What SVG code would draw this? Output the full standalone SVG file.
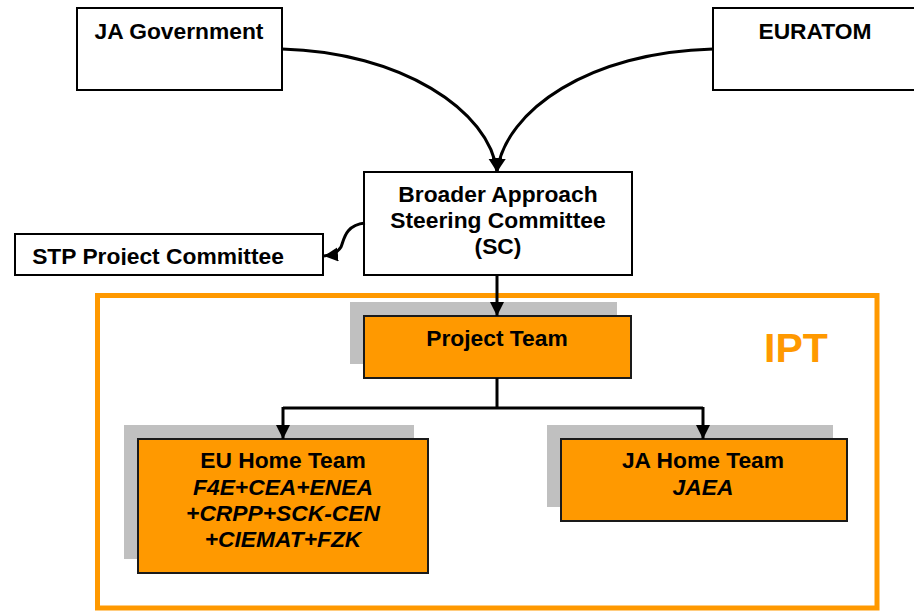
<svg xmlns="http://www.w3.org/2000/svg" width="914" height="612" viewBox="0 0 914 612">
  <defs>
    <style>
      .box { fill: #ffffff; stroke: #000000; stroke-width: 2; }
      .obox { fill: #FF9900; stroke: #1a1a1a; stroke-width: 2; }
      .shadow { fill: #C0C0C0; stroke: none; }
      .t { font-family: "Liberation Sans", Arial, sans-serif; font-weight: bold; font-size: 22.8px; fill: #000000; text-anchor: middle; }
      .it { font-style: italic; }
      .conn { fill: none; stroke: #000000; stroke-width: 3; }
    </style>
    <marker id="arr" markerWidth="16" markerHeight="16" refX="14" refY="7" orient="auto" markerUnits="userSpaceOnUse">
      <path d="M0,0 L14,7 L0,14 Z" fill="#000000"/>
    </marker>
    <clipPath id="stpclip">
      <rect x="15" y="234" width="308" height="31"/>
    </clipPath>
  </defs>

  <rect width="914" height="612" fill="#ffffff"/>

  <g id="ipt-frame">
    <rect x="97.5" y="295.5" width="779.5" height="312.5" fill="none" stroke="#FF9900" stroke-width="5"/>
    <text x="796" y="362" font-family="Liberation Sans, Arial, sans-serif" font-weight="bold" font-size="41" fill="#FF9900" text-anchor="middle">IPT</text>
  </g>

  <g id="ja-government">
    <rect class="box" x="77" y="8" width="205" height="82"/>
    <text class="t" x="179" y="39">JA Government</text>
  </g>

  <g id="euratom">
    <rect class="box" x="713" y="8" width="210" height="82"/>
    <text class="t" x="815" y="39">EURATOM</text>
  </g>

  <g id="steering-committee">
    <rect class="box" x="364" y="172" width="268" height="103"/>
    <text class="t" x="498" y="202">Broader Approach</text>
    <text class="t" x="498" y="228">Steering Committee</text>
    <text class="t" x="498" y="254">(SC)</text>
  </g>

  <g id="stp-project-committee">
    <rect class="box" x="15" y="234" width="308" height="41"/>
    <text class="t" x="158" y="264" clip-path="url(#stpclip)">STP Project Committee</text>
  </g>

  <g id="project-team">
    <rect class="shadow" x="350" y="302" width="267" height="62"/>
    <rect class="obox" x="364" y="316" width="267" height="62"/>
    <text class="t" x="497" y="346">Project Team</text>
  </g>

  <g id="eu-home-team">
    <rect class="shadow" x="124" y="425" width="290" height="134"/>
    <rect class="obox" x="138" y="439" width="290" height="134"/>
    <text class="t" x="283" y="468">EU Home Team</text>
    <text class="t it" x="283" y="495">F4E+CEA+ENEA</text>
    <text class="t it" x="283" y="521">+CRPP+SCK-CEN</text>
    <text class="t it" x="283" y="547">+CIEMAT+FZK</text>
  </g>

  <g id="ja-home-team">
    <rect class="shadow" x="547" y="425" width="286" height="82"/>
    <rect class="obox" x="561" y="439" width="286" height="82"/>
    <text class="t" x="703" y="468">JA Home Team</text>
    <text class="t it" x="703" y="495">JAEA</text>
  </g>

  <g id="connectors">
    <path class="conn" d="M282,49 C400,52 490,110 497,172" marker-end="url(#arr)"/>
    <path class="conn" d="M713,49 C590,52 505,110 497,172" marker-end="url(#arr)"/>
    <path class="conn" d="M365,223 C345,225 344,240 341,247 C338,252 333,255 324,256" marker-end="url(#arr)"/>
    <path class="conn" d="M497,275 L497,316" marker-end="url(#arr)"/>
    <path class="conn" d="M497,378 L497,408"/>
    <path class="conn" d="M283,408 L703,408"/>
    <path class="conn" d="M283,407 L283,439" marker-end="url(#arr)"/>
    <path class="conn" d="M703,407 L703,439" marker-end="url(#arr)"/>
  </g>
</svg>
